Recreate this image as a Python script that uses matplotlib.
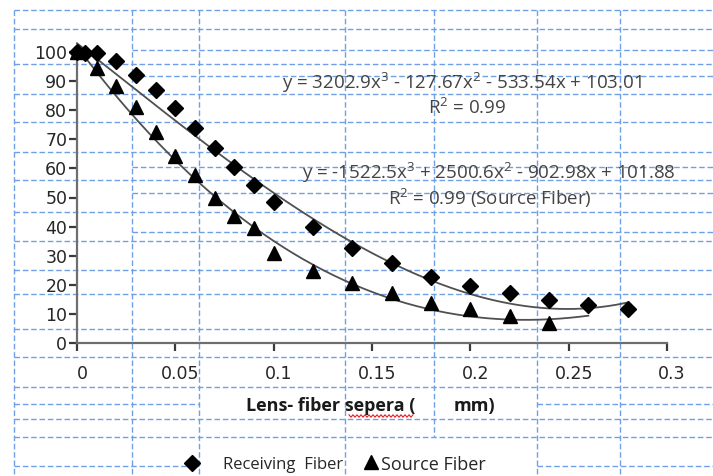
import matplotlib
matplotlib.use("Agg")
import matplotlib.pyplot as plt
import numpy as np
from matplotlib.lines import Line2D
from matplotlib.transforms import offset_copy

# ---------------- data ----------------
recv_x = [0, 0.004, 0.01, 0.02, 0.03, 0.04, 0.05, 0.06, 0.07, 0.08, 0.09, 0.1,
          0.12, 0.14, 0.16, 0.18, 0.2, 0.22, 0.24, 0.26, 0.28]
recv_y = [100, 99.6, 99.5, 97, 92, 87, 80.7, 73.9, 67, 60.5, 54.3, 48.5,
          40, 32.6, 27.5, 22.7, 19.6, 17.2, 14.8, 13, 11.7]

src_x = [0, 0.01, 0.02, 0.03, 0.04, 0.05, 0.06, 0.07, 0.08, 0.09, 0.1,
         0.12, 0.14, 0.16, 0.18, 0.2, 0.22, 0.24]
src_y = [100, 94.4, 88.3, 81, 72.6, 64.3, 57.7, 49.7, 43.6, 39.6, 31,
         24.6, 20.7, 17.3, 13.9, 11.8, 9.3, 6.8]

# trendline coefficients as printed on the chart (cubic, highest power first)
recv_coef = [3202.9, -127.67, -533.54, 103.01]
src_coef = [-1522.5, 2500.6, -902.98, 101.88]
recv_fit_range = [0, 0.28]
src_fit_range = [0, 0.26]

x_ticks = [0, 0.05, 0.1, 0.15, 0.2, 0.25, 0.3]
x_ticklabels = ["0", "0.05", "0.1", "0.15", "0.2", "0.25", "0.3"]
y_ticks = [0, 10, 20, 30, 40, 50, 60, 70, 80, 90, 100]

eq1 = "y = 3202.9x$^{3}$ - 127.67x$^{2}$ - 533.54x + 103.01"
r1 = "R$^{2}$ = 0.99"
eq2 = "y = -1522.5x$^{3}$ + 2500.6x$^{2}$ - 902.98x + 101.88"
r2 = "R$^{2}$ = 0.99 (Source Fiber)"
xlabel_a = "Lens- fiber sepera ("
xlabel_b = "mm)"
leg_recv = "Receiving  Fiber"
leg_src = "Source Fiber"

# ---------------- figure ----------------
W, H = 713, 476
plt.rcParams["font.family"] = ["Open Sans", "DejaVu Sans"]
plt.rcParams["mathtext.fontset"] = "custom"
plt.rcParams["mathtext.rm"] = "Open Sans"
plt.rcParams["mathtext.it"] = "Open Sans:italic"
plt.rcParams["mathtext.default"] = "regular"
fig = plt.figure(figsize=(W / 100, H / 100), dpi=100)
fig.patch.set_facecolor("white")


def fx(x):
    return x / W


def fy(y):
    return 1 - y / H


# Word table dashed grid (decoration, figure pixel coordinates)
grid_kw = dict(color="#6f9fe6", lw=1.0, ls=(0, (4, 2)), zorder=-5,
               transform=fig.transFigure)
h_full = [10, 29, 64, 94, 122, 152, 180, 212, 241, 270, 294, 329, 357, 387, 419, 437]
h_part = [50, 76, 167, 193, 232]
for yy in h_full:
    fig.add_artist(Line2D([fx(14), fx(713)], [fy(yy), fy(yy)], **grid_kw))
for yy in h_part:
    fig.add_artist(Line2D([fx(132), fx(713)], [fy(yy), fy(yy)], **grid_kw))
for yy in [404, 466]:
    fig.add_artist(Line2D([fx(14), fx(199)], [fy(yy), fy(yy)], **grid_kw))
    fig.add_artist(Line2D([fx(537), fx(713)], [fy(yy), fy(yy)], **grid_kw))
for xx in [14, 132, 199, 345, 537, 620]:
    fig.add_artist(Line2D([fx(xx), fx(xx)], [fy(10), fy(476)], **grid_kw))
fig.add_artist(Line2D([fx(434), fx(434)], [fy(10), fy(437)], **grid_kw))

# ---------------- axes ----------------
ax = fig.add_axes([fx(77), fy(343), fx(667) - fx(77), (343 - 52) / H])
ax.patch.set_alpha(0)
ax.set_xlim(0, 0.3)
ax.set_ylim(0, 100)
for s in ["top", "right"]:
    ax.spines[s].set_visible(False)
for s in ["left", "bottom"]:
    ax.spines[s].set_color("#6e6e6e")
    ax.spines[s].set_linewidth(1.6)

ax.set_xticks(x_ticks)
ax.set_xticklabels(x_ticklabels)
ax.set_yticks(y_ticks)
ax.tick_params(axis="both", direction="out", color="#3a3a3a", width=1.6,
               length=6, labelsize=12.5, labelcolor="#262626")
ax.tick_params(axis="x", pad=10)
ax.tick_params(axis="y", pad=1)
for lab in ax.get_xticklabels() + ax.get_yticklabels():
    lab.set_family(["DejaVu Sans"])
for lab in ax.get_xticklabels():
    lab.set_transform(offset_copy(lab.get_transform(), fig=fig, x=5, y=0, units="dots"))

# trendlines
xr = np.linspace(recv_fit_range[0], recv_fit_range[1], 200)
xs = np.linspace(src_fit_range[0], src_fit_range[1], 200)
ax.plot(xr, np.polyval(recv_coef, xr), color="#505050", lw=1.3, zorder=3, clip_on=False)
ax.plot(xs, np.polyval(src_coef, xs), color="#505050", lw=1.3, zorder=3, clip_on=False)

# data
ax.plot(recv_x, recv_y, ls="none", marker="D", ms=8.5, color="black", zorder=4, clip_on=False)
ax.plot(src_x, src_y, ls="none", marker="^", ms=9.5, color="black", zorder=4, clip_on=False)

# equations
eq_kw = dict(fontsize=13.5, color="#444444", va="center")
fig.text(fx(282), fy(83), eq1, ha="left", **eq_kw)
fig.text(fx(467), fy(108), r1, ha="center", **eq_kw)
fig.text(fx(302), fy(173), eq2, ha="left", **eq_kw)
fig.text(fx(490), fy(198), r2, ha="center", **eq_kw)

# x-axis label (split as in the original)
fig.text(fx(246), fy(406), xlabel_a, ha="left", va="center", fontsize=13,
         fontweight="bold", color="#1a1a1a")
fig.text(fx(454), fy(406), xlabel_b, ha="left", va="center", fontsize=13,
         fontweight="bold", color="#1a1a1a")
# spell-check squiggle under "sepera"
sq_x = np.arange(349, 414, 2.0)
sq_y = 416 + np.where(np.arange(len(sq_x)) % 2 == 0, -1.2, 1.2)
fig.add_artist(Line2D(fx(sq_x), fy(sq_y), color="#e02020", lw=0.8,
                      transform=fig.transFigure))

# legend row
fig.add_artist(Line2D([fx(192)], [fy(463)], marker="D", ms=8, color="black",
                      ls="none", transform=fig.transFigure))
fig.text(fx(223), fy(465), leg_recv, ha="left", va="center", fontsize=12, color="#262626")
fig.add_artist(Line2D([fx(371)], [fy(462)], marker="^", ms=9.5, color="black",
                      ls="none", transform=fig.transFigure))
fig.text(fx(381), fy(465), leg_src, ha="left", va="center", fontsize=13, color="#262626")

fig.savefig("out.png", dpi=100, facecolor="white")
